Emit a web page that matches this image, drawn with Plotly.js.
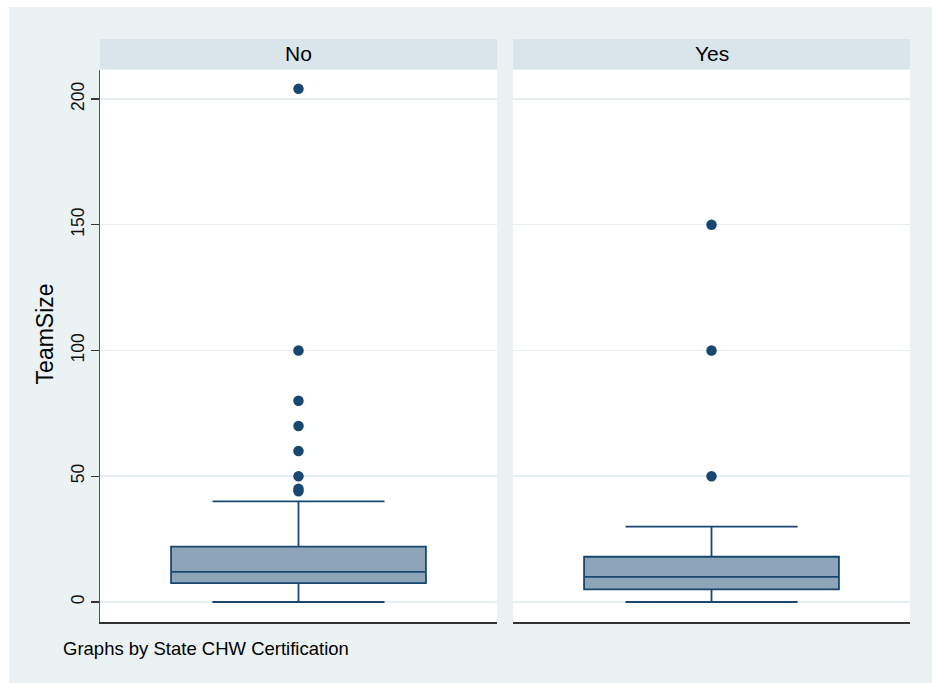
<!DOCTYPE html>
<html>
<head>
<meta charset="utf-8">
<script src="https://cdn.plot.ly/plotly-3.0.1.min.js"></script>
<style>
  html, body { margin: 0; padding: 0; background: #ffffff; overflow: hidden; }
  #chart { position: absolute; left: 9px; top: 7px; width: 923px; height: 676px; }
</style>
</head>
<body>
<div id="chart"></div>
<script>
// Panels: State CHW Certification groups
const groups = ["No", "Yes"];

// Box summaries of TeamSize for each group
const lowerWhisker = [0, 0];
const q1Values = [7.5, 5];
const medianValues = [12, 10];
const q3Values = [22, 18];
const upperWhisker = [40, 30];

// Outside values drawn as dots
const outliersNo = [44, 45, 50, 60, 70, 80, 100, 204];
const outliersYes = [50, 100, 150];

// Axis ticks
const yTickValues = [0, 50, 100, 150, 200];
const yTickLabels = ["0", "50", "100", "150", "200"];

const navy = "#1A476F";
const boxFill = "#8EA4B8";
const font = "Liberation Sans, Arial, Helvetica, sans-serif";

const outlierSets = [outliersNo, outliersYes];
const traces = [];
groups.forEach((g, i) => {
  const xa = i === 0 ? "x" : "x2";
  const ya = i === 0 ? "y" : "y2";
  traces.push({
    type: "box",
    x: [g],
    q1: [q1Values[i]],
    median: [medianValues[i]],
    q3: [q3Values[i]],
    lowerfence: [lowerWhisker[i]],
    upperfence: [upperWhisker[i]],
    boxpoints: false,
    width: 0.642,
    whiskerwidth: 0.675,
    fillcolor: boxFill,
    line: { color: navy, width: 1.8 },
    xaxis: xa, yaxis: ya,
    hoverinfo: "skip",
    showlegend: false
  });
  traces.push({
    type: "scatter",
    mode: "markers",
    x: outlierSets[i].map(() => g),
    y: outlierSets[i],
    marker: { color: navy, size: 10.5 },
    xaxis: xa, yaxis: ya,
    hoverinfo: "skip",
    showlegend: false
  });
});

const yRange = [-7.95, 211.5];
const gridColor = "#E7EEF1";

const layout = {
  width: 923,
  height: 676,
  paper_bgcolor: "#EAF2F3",
  plot_bgcolor: "#ffffff",
  margin: { l: 91, r: 22, t: 63, b: 61 },
  font: { family: font, color: "#000000" },
  showlegend: false,
  xaxis: {
    domain: [0, 0.4901], type: "category", range: [-0.5, 0.5],
    showticklabels: false, ticks: "", showgrid: false, zeroline: false,
    showline: true, linecolor: "#333333", linewidth: 1.5, fixedrange: true
  },
  xaxis2: {
    domain: [0.5099, 1], type: "category", range: [-0.5, 0.5],
    showticklabels: false, ticks: "", showgrid: false, zeroline: false,
    showline: true, linecolor: "#333333", linewidth: 1.5, fixedrange: true
  },
  yaxis: {
    range: yRange, tickvals: yTickValues, ticktext: yTickLabels,
    tickangle: -90, ticks: "outside", ticklen: 8, tickwidth: 1.2, tickcolor: "#333333",
    tickfont: { size: 17.5, family: font, color: "#111111" },
    showgrid: true, gridcolor: gridColor, gridwidth: 1.5, zeroline: false,
    showline: true, linecolor: "#555555", linewidth: 1.5, fixedrange: true
  },
  yaxis2: {
    anchor: "x2", range: yRange, tickvals: yTickValues, showticklabels: false,
    ticks: "", showgrid: true, gridcolor: gridColor, gridwidth: 1.5,
    zeroline: false, showline: false, fixedrange: true
  },
  shapes: [
    { type: "rect", xref: "x domain", yref: "paper", x0: 0, x1: 1, y0: 1.0018, y1: 1.0562,
      fillcolor: "#D9E5EA", line: { width: 0 }, layer: "below" },
    { type: "rect", xref: "x2 domain", yref: "paper", x0: 0, x1: 1, y0: 1.0018, y1: 1.0562,
      fillcolor: "#D9E5EA", line: { width: 0 }, layer: "below" }
  ],
  annotations: [
    { text: groups[0], xref: "x domain", yref: "paper", x: 0.5, y: 1.029,
      xanchor: "center", yanchor: "middle", showarrow: false,
      font: { size: 21, family: font, color: "#000000" } },
    { text: groups[1], xref: "x2 domain", yref: "paper", x: 0.5, y: 1.029,
      xanchor: "center", yanchor: "middle", showarrow: false,
      font: { size: 21, family: font, color: "#000000" } },
    { text: "TeamSize", xref: "paper", yref: "paper", x: -0.0679, y: 0.521,
      textangle: -90, xanchor: "center", yanchor: "middle", showarrow: false,
      font: { size: 23, family: font, color: "#000000" } },
    { text: "Graphs by State CHW Certification", xref: "paper", yref: "paper",
      x: -0.0481, y: -0.0489, xanchor: "left", yanchor: "middle", showarrow: false,
      font: { size: 18.5, family: font, color: "#000000" } }
  ]
};

Plotly.newPlot("chart", traces, layout, { displayModeBar: false, staticPlot: true });
</script>
</body>
</html>
